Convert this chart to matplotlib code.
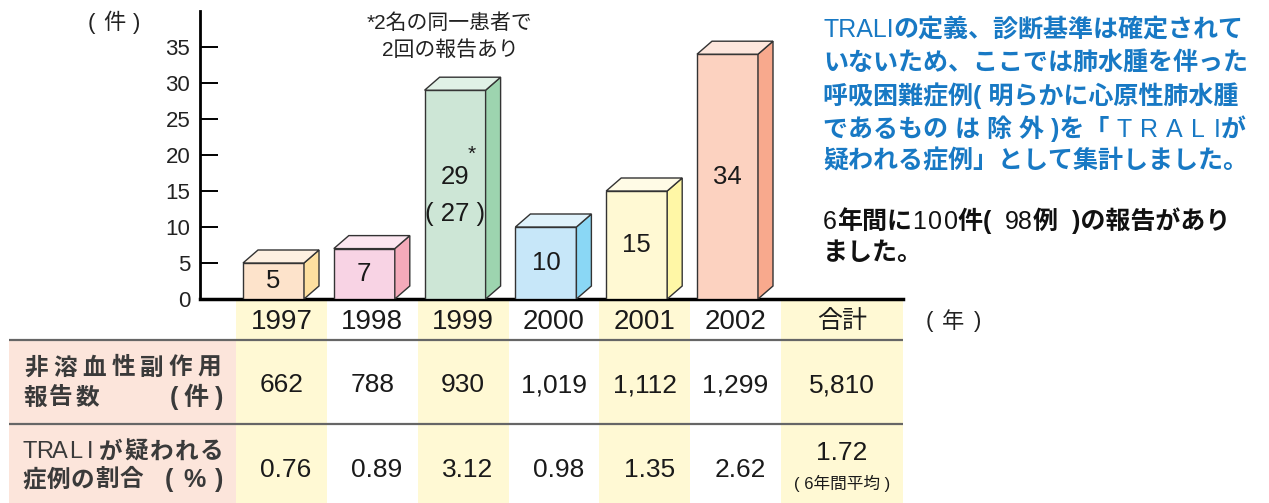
import matplotlib
matplotlib.use("Agg")
import matplotlib.pyplot as plt
from matplotlib.patches import Polygon, Rectangle
from matplotlib.offsetbox import TextArea, HPacker, AnnotationBbox

plt.rcParams['font.family'] = ['Liberation Sans', 'Noto Sans CJK JP', 'DejaVu Sans']

# データ
years = ['1997', '1998', '1999', '2000', '2001', '2002']
cases = [5, 7, 29, 10, 15, 34]
patients_1999 = 27
reports = ['662', '788', '930', '1,019', '1,112', '1,299']
reports_total = '5,810'
rates = ['0.76', '0.89', '3.12', '0.98', '1.35', '2.62']
rate_avg = '1.72'
total_label = '合計'
yticks = [0, 5, 10, 15, 20, 25, 30, 35]

front_colors = ['#FDE3CB', '#F8D3E4', '#CDE6D6', '#C7E7F9', '#FFF9D3', '#FCD2C0']
side_colors = ['#FEE0A0', '#F4AABA', '#9DD4AF', '#8AD7F5', '#FFF7A6', '#F8A98D']
top_colors = ['#FEF0E1', '#FCE6F0', '#E0F1E6', '#DFF2FB', '#FFFBE6', '#FDE6DC']

# (text, bold, tracking px)
blue_lines = [
    [("TRALI", False, 0), ("の定義、診断基準は確定されて", True, 0)],
    [("いないため、ここでは肺水腫を伴った", True, 0)],
    [("呼吸困難症例( 明らかに心原性肺水腫", True, 0)],
    [("であるもの は 除 外 )を「 ", True, 0), ("TRALI", False, 6), ("が", True, 0)],
    [("疑われる症例」として集計しました。", True, 0)],
]
black_lines = [
    [("6", False, 0), ("年間に", True, 0), ("100", False, 1.5), ("件(  ", True, 0),
     ("98", False, 0), ("例  )の報告があり", True, 0)],
    [("ました。", True, 0)],
]

W, H = 1269, 503
fig = plt.figure(figsize=(W / 100, H / 100), dpi=100)


def box(x0, y0, x1, y1):
    # pixel box (top-left origin) -> figure fraction
    return [x0 / W, 1 - y1 / H, (x1 - x0) / W, (y1 - y0) / H]


PITCH = 90.8
C0 = 281.5


def u(px):
    return (px - C0) / PITCH


# ---- 表 ----
tab = fig.add_axes(box(9, 299, 903, 503))
tab.set_xlim(u(9), u(903))
tab.set_ylim(204, 0)
tab.axis('off')
yellow = '#FFF9D4'
for i in range(len(years)):
    if i % 2 == 0:
        tab.add_patch(Rectangle((i - 0.5, 0), 1, 204, color=yellow, lw=0))
tab.add_patch(Rectangle((len(years) - 0.5, 0), u(903) - (len(years) - 0.5), 204, color=yellow, lw=0))
tab.add_patch(Rectangle((u(9), 41), -0.5 - u(9), 163, color='#FCE5DB', lw=0))
for yy in (41, 125):
    tab.plot([u(9), u(903)], [yy, yy], color='#666666', lw=1.6)

num_kw = dict(ha='center', va='center', fontsize=19, color='#1a1a1a')
for i, (yr, rep, rt) in enumerate(zip(years, reports, rates)):
    tab.text(i, 23, yr, ha='center', va='center', fontsize=20, color='#1a1a1a')
    tab.text(i, 86, rep, **num_kw)
    tab.text(i + 0.05, 171, rt, **num_kw)
xt = (len(years) - 0.5 + u(903)) / 2
tab.text(xt, 22, total_label, ha='center', va='center', fontsize=18, color='#1a1a1a')
tab.text(xt, 86, reports_total, **num_kw)
tab.text(xt, 154, rate_avg, **num_kw)
tab.text(xt, 184, '( 6年間平均 )', ha='center', va='center', fontsize=12, color='#1a1a1a')

# ---- グラフ ----
ax = fig.add_axes(box(200, 11, 903, 299))
ax.patch.set_visible(False)
ax.set_xlim(u(200), u(903))
ax.set_ylim(0, 40)
for s in ('top', 'right'):
    ax.spines[s].set_visible(False)
ax.spines['left'].set_linewidth(2)
ax.spines['bottom'].set_linewidth(2.5)
ax.set_xticks([])
ax.set_yticks(yticks)
ax.tick_params(axis='y', direction='in', length=13, width=1.4, pad=7,
               labelsize=16, labelcolor='#222222')

fw = 61 / PITCH      # front width
fl = -0.424          # front left offset
dx = 15 / PITCH      # depth in x
dy = 13 / 7.2        # depth in y (data units)
for i, v in enumerate(cases):
    x0 = i + fl
    x1 = x0 + fw
    ax.bar(x0, v, width=fw, align='edge', color=front_colors[i], edgecolor='#333333', lw=1, zorder=3)
    ax.add_patch(Polygon([(x1, 0), (x1 + dx, dy), (x1 + dx, v + dy), (x1, v)], closed=True,
                         facecolor=side_colors[i], edgecolor='#333333', lw=1, zorder=3))
    ax.add_patch(Polygon([(x0, v), (x0 + dx, v + dy), (x1 + dx, v + dy), (x1, v)], closed=True,
                         facecolor=top_colors[i], edgecolor='#333333', lw=1, zorder=3))
    xc = (x0 + x1) / 2
    if i == 2:
        ax.annotate(str(v), (xc, v / 2), xytext=(0, 13), textcoords='offset points',
                    ha='center', va='center', fontsize=18.5, color='#1a1a1a', zorder=4)
        ax.annotate('( %d )' % patients_1999, (xc, v / 2), xytext=(0, -14), textcoords='offset points',
                    ha='center', va='center', fontsize=18.5, color='#1a1a1a', zorder=4)
        ax.annotate('*', (xc, v / 2), xytext=(12, 29), textcoords='offset points',
                    ha='center', va='center', fontsize=15, color='#1a1a1a', zorder=4)
    else:
        ax.text(xc, v / 2, str(v), ha='center', va='center', fontsize=18.5, color='#1a1a1a', zorder=4)

# ---- 注記 ----
over = fig.add_axes([0, 0, 1, 1])
over.set_xlim(0, W)
over.set_ylim(H, 0)
over.axis('off')


def spread(x0, x1, y, s, bold=True, size=17, color='#3a3a3a'):
    slot = (x1 - x0) / len(s)
    for k, ch in enumerate(s):
        over.text(x0 + (k + 0.5) * slot, y, ch, ha='center', va='center', fontsize=size,
                  fontweight='bold' if bold else 'normal', color=color)


spread(80, 148, 23, '(件)', bold=False, size=16, color='#222222')
spread(918, 989, 322, '(年)', bold=False, size=16, color='#222222')
over.text(367, 23, '*2名の同一患者で', ha='left', va='center', fontsize=15, color='#222222')
over.text(382, 50, '2回の報告あり', ha='left', va='center', fontsize=15, color='#222222')

spread(22, 224, 368, '非溶血性副作用')
spread(22, 100, 398, '報告数')
spread(162, 231, 398, '(件)', size=18)
spread(22, 98, 452, 'TRALI', bold=False)
spread(98, 224, 452, 'が疑われる')
spread(22, 143, 480, '症例の割合')
spread(157, 231, 480, '(%)', size=18)


def runs_line(x, y, runs, color, size=18):
    parts = []
    for t, b, trk in runs:
        props = dict(fontsize=size, color=color, fontweight='bold' if b else 'normal')
        if trk:
            parts.append(HPacker(children=[TextArea(c, textprops=props) for c in t],
                                 align='baseline', pad=0, sep=trk))
        else:
            parts.append(TextArea(t, textprops=props))
    pack = HPacker(children=parts, align='baseline', pad=0, sep=0)
    ab = AnnotationBbox(pack, (x, y), xycoords=over.transData, box_alignment=(0, 0.5),
                        frameon=False, pad=0)
    over.add_artist(ab)


blue = '#1879C4'
for k, line in enumerate(blue_lines):
    runs_line(823, 30 + k * 32.8, line, blue)
for k, line in enumerate(black_lines):
    runs_line(823, 221 + k * 32, line, '#111111')

fig.savefig('out.png', dpi=100)
